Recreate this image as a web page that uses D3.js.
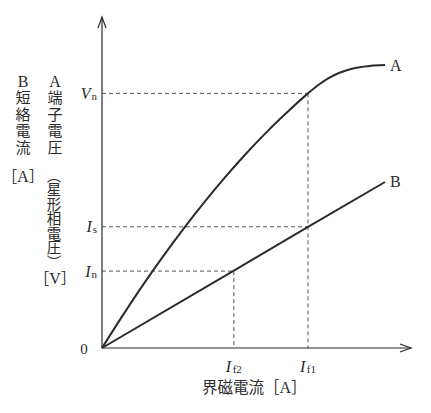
<!DOCTYPE html>
<html><head><meta charset="utf-8">
<script src="https://cdn.jsdelivr.net/npm/d3@7"></script>
<style>
html,body{margin:0;padding:0;background:#fff;}
svg{display:block;}
.lat{font-family:"Liberation Serif","DejaVu Serif",serif;fill:#2b2b2b;}
.cjk{font-family:"Noto Sans CJK JP","Noto Sans CJK SC",sans-serif;fill:#2b2b2b;font-weight:400;}
</style></head>
<body>
<script>
// ---- data ----
const curveA_x = [0, 10, 20, 30, 40, 50, 60, 70, 80, 90, 100, 105, 110, 115, 120, 125, 130, 137.4];
const curveA_y = [0, 12.7, 24.9, 36.4, 47.3, 57.6, 67.3, 76.4, 84.9, 92.7, 100, 103.3, 106.0, 108.0, 109.4, 110.3, 110.8, 111.1];
const curveB_x = [0, 64, 100, 137.4];
const curveB_y = [0, 30.4, 47.6, 65.2];
const yTickNames = ["V", "I", "I"];
const yTickSubs = ["n", "s", "n"];
const yTickValues = [100, 47.6, 30.2];
const xTickNames = ["I", "I"];
const xTickSubs = ["f2", "f1"];
const xTickValues = [64, 100];
const xDomain = [0, 150];
const yDomain = [0, 130];

const W = 431, H = 413;
const svg = d3.select("body").append("svg").attr("width", W).attr("height", H);
const x = d3.scaleLinear().domain(xDomain).range([102, 411]);
const y = d3.scaleLinear().domain(yDomain).range([348, 17]);
const ink = "#2b2b2b";

// dashed guides
const g = svg.append("g").attr("stroke", "#555").attr("stroke-width", 1).attr("stroke-dasharray", "4,3").attr("fill", "none");
const Vn = yTickValues[0], Is = yTickValues[1], In = yTickValues[2];
const If2 = xTickValues[0], If1 = xTickValues[1];
const seg = (x1, y1, x2, y2) => g.append("line").attr("x1", x(x1)).attr("y1", y(y1)).attr("x2", x(x2)).attr("y2", y(y2));
seg(0, Vn, If1, Vn);
seg(If1, Vn, If1, 0);
seg(0, Is, If1, Is);
seg(0, In, If2, In);
seg(If2, In, If2, 0);

// axes
const ax = svg.append("g").attr("stroke", ink).attr("stroke-width", 1.2).attr("fill", "none");
ax.append("line").attr("x1", x(0)).attr("y1", y(0)).attr("x2", x(xDomain[1])).attr("y2", y(0));
ax.append("line").attr("x1", x(0)).attr("y1", y(0)).attr("x2", x(0)).attr("y2", y(yDomain[1]));
const xt = x(xDomain[1]), yt = y(yDomain[1]);
ax.append("path").attr("d", `M${xt-11},${y(0)-4}L${xt},${y(0)}L${xt-11},${y(0)+4}`);
ax.append("path").attr("d", `M${x(0)-4},${yt+11}L${x(0)},${yt}L${x(0)+4},${yt+11}`);

// curves
const line = d3.line().x(d => x(d[0])).y(d => y(d[1])).curve(d3.curveMonotoneX);
const A = curveA_x.map((v, i) => [v, curveA_y[i]]);
const B = curveB_x.map((v, i) => [v, curveB_y[i]]);
svg.append("path").datum(A).attr("d", line).attr("fill", "none").attr("stroke", ink).attr("stroke-width", 2);
svg.append("path").datum(B).attr("d", d3.line().x(d => x(d[0])).y(d => y(d[1]))).attr("fill", "none").attr("stroke", ink).attr("stroke-width", 2);

// curve labels
svg.append("text").attr("class", "lat").attr("x", x(A[A.length-1][0]) + 5).attr("y", y(A[A.length-1][1]) + 6).attr("font-size", 16).text("A");
svg.append("text").attr("class", "lat").attr("x", x(B[B.length-1][0]) + 5).attr("y", y(B[B.length-1][1]) + 5).attr("font-size", 16).text("B");

// y tick labels
yTickValues.forEach((v, i) => {
  const t = svg.append("text").attr("class", "lat").attr("x", 97).attr("y", y(v) + 5.5).attr("text-anchor", "end").attr("font-size", 16);
  t.append("tspan").attr("font-style", "italic").text(yTickNames[i]);
  t.append("tspan").attr("font-size", 11).attr("dx", 1).attr("dy", 1).text(yTickSubs[i]);
});
// x tick labels
xTickValues.forEach((v, i) => {
  const t = svg.append("text").attr("class", "lat").attr("x", x(v)).attr("y", 371.5).attr("text-anchor", "middle").attr("font-size", 16);
  t.append("tspan").attr("font-style", "italic").text(xTickNames[i]);
  t.append("tspan").attr("font-size", 11).attr("dx", 1.5).attr("dy", 1.5).text(xTickSubs[i]);
});
svg.append("text").attr("class", "lat").attr("x", 84).attr("y", 354).attr("text-anchor", "middle").attr("font-size", 15).text("0");

// x axis title
const xtitle = svg.append("text").attr("class", "cjk").attr("x", 202).attr("y", 393).attr("font-size", 15.5);
xtitle.append("tspan").text("界磁電流［");
xtitle.append("tspan").attr("class", "lat").attr("font-size", 16).text("A");
xtitle.append("tspan").text("］");

// left vertical labels
svg.append("text").attr("class", "lat").attr("x", 23).attr("y", 87).attr("text-anchor", "middle").attr("font-size", 16).text("B");
svg.append("text").attr("class", "lat").attr("x", 55).attr("y", 87).attr("text-anchor", "middle").attr("font-size", 16).text("A");
svg.append("text").attr("class", "cjk").attr("x", 23).attr("y", 90).attr("font-size", 15).attr("letter-spacing", 1.5)
  .style("writing-mode", "vertical-rl").text("短絡電流");
svg.append("text").attr("class", "cjk").attr("x", 55).attr("y", 90).attr("font-size", 15).attr("letter-spacing", 1.5)
  .style("writing-mode", "vertical-rl").text("端子電圧");
svg.append("text").attr("class", "cjk").attr("x", 54).attr("y", 168).attr("font-size", 14.5)
  .style("writing-mode", "vertical-rl").text("（星形相電圧）");
const ba = svg.append("text").attr("class", "cjk").attr("x", 23).attr("y", 182).attr("text-anchor", "middle").attr("font-size", 15);
ba.append("tspan").text("［"); ba.append("tspan").attr("class", "lat").attr("font-size", 16).text("A"); ba.append("tspan").text("］");
const bv = svg.append("text").attr("class", "cjk").attr("x", 55).attr("y", 284).attr("text-anchor", "middle").attr("font-size", 15);
bv.append("tspan").text("［"); bv.append("tspan").attr("class", "lat").attr("font-size", 16).text("V"); bv.append("tspan").text("］");
</script>
</body></html>
